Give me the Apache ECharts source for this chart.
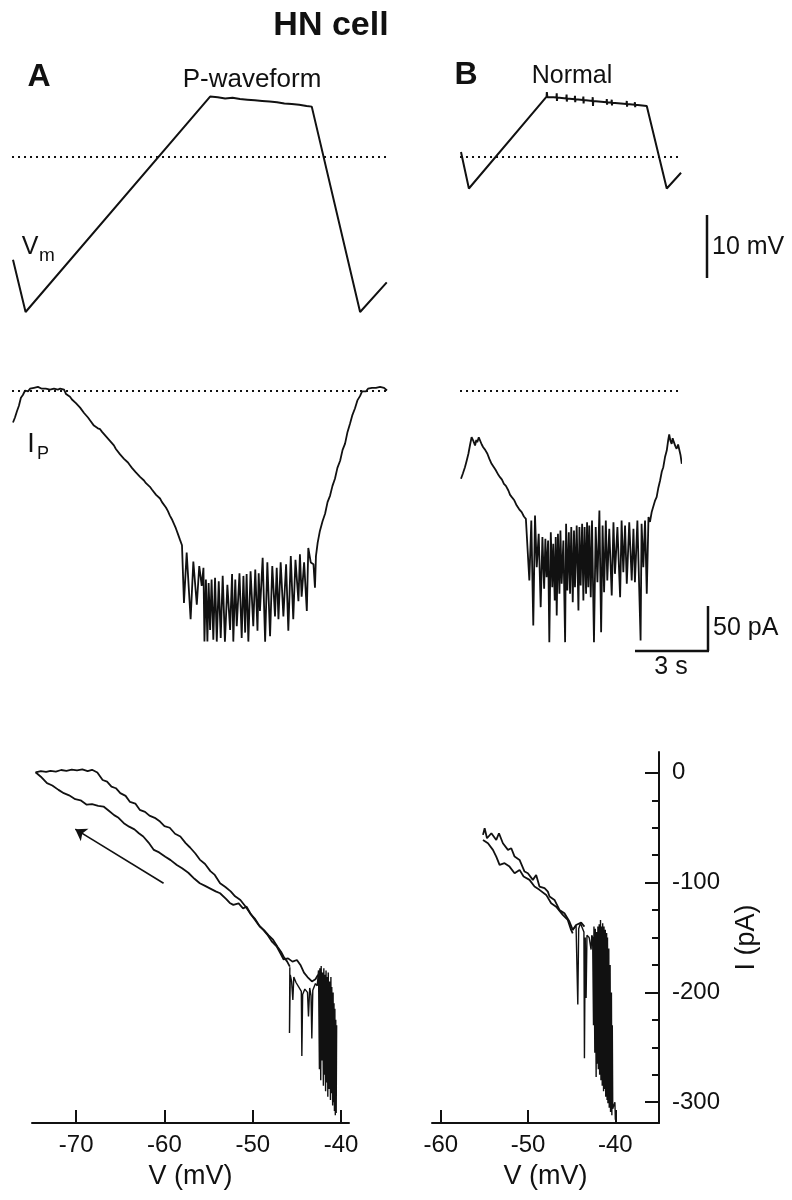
<!DOCTYPE html>
<html>
<head>
<meta charset="utf-8">
<script src="https://cdn.jsdelivr.net/npm/echarts@6/dist/echarts.min.js"></script>
<style>
  html, body { margin: 0; padding: 0; background: #fff; }
  #chart { width: 792px; height: 1200px; }
</style>
</head>
<body>
<div id="chart"></div>
<script>
// ---- data ----
// membrane potential, [time s, mV]
const vmA = [[0, -66.7], [0.51, -75], [7.99, -40.8], [8.0, -40.6], [8.02, -40.9], [8.3, -40.9], [8.32, -40.7], [8.34, -41.0],
  [8.6, -41.1], [8.9, -41.0], [9.2, -41.2], [9.22, -41.0], [9.24, -41.3], [9.5, -41.3], [9.8, -41.4], [10.1, -41.5],
  [10.4, -41.6], [10.42, -41.4], [10.44, -41.7], [10.7, -41.7], [11.0, -41.9], [11.3, -42.0], [11.6, -42.1],
  [11.62, -41.9], [11.64, -42.2], [11.9, -42.3], [12.11, -42.4], [14.07, -75], [15.15, -70.3]];
const vmB = [[0, -49.6], [0.32, -55.4], [3.47, -40.8], [3.48, -40.1], [3.5, -40.9], [3.6, -40.9], [3.75, -40.9],
  [3.87, -40.95], [3.88, -40.3], [3.89, -41.5], [3.9, -40.95],
  [4.27, -41.1], [4.28, -40.5], [4.29, -41.6], [4.3, -41.1],
  [4.61, -41.23], [4.62, -40.7], [4.63, -41.7], [4.64, -41.23],
  [4.95, -41.35], [4.96, -40.8], [4.97, -41.9], [4.98, -41.35],
  [5.33, -41.49], [5.34, -40.9], [5.35, -42.3], [5.36, -41.49],
  [5.9, -41.7], [5.91, -41.2], [5.92, -42.1], [5.93, -41.7],
  [6.1, -41.78], [6.11, -41.3], [6.12, -42.2], [6.13, -41.78],
  [6.71, -42.0], [6.72, -41.5], [6.73, -42.4], [6.74, -42.0],
  [7.04, -42.12], [7.05, -41.7], [7.06, -42.5], [7.07, -42.12],
  [7.53, -42.3], [8.34, -55.4], [8.92, -52.9]];
const vmRef = -50.4; // dotted line level

// persistent current, [time s, pA]
const ipA = [[0, -35.6], [0.08, -30], [0.16, -23], [0.24, -17], [0.32, -8], [0.4, -5], [0.49, 0], [0.55, -2], [0.61, -1],
  [0.69, 2], [0.77, 1], [0.85, 3], [0.93, 2], [1.01, 4], [1.09, 3], [1.17, 2], [1.25, 4], [1.33, 2], [1.41, 3], [1.5, 1],
  [1.58, 3], [1.66, 2], [1.74, 3], [1.82, 1], [1.91, 2], [1.99, 0], [2.07, 1], [2.15, -4], [2.23, -6], [2.31, -7],
  [2.39, -10], [2.47, -11], [2.55, -14], [2.63, -15], [2.72, -19], [2.8, -20], [2.88, -25], [2.96, -24], [3.04, -30],
  [3.12, -33], [3.2, -34], [3.28, -39], [3.36, -38], [3.44, -42], [3.53, -43], [3.61, -46], [3.69, -47], [3.77, -51],
  [3.85, -52], [3.93, -56], [4.01, -58], [4.09, -61], [4.17, -65], [4.25, -66], [4.34, -71], [4.42, -72], [4.5, -76],
  [4.58, -78], [4.66, -80], [4.74, -83], [4.82, -86], [4.9, -87], [4.98, -91], [5.06, -92], [5.15, -96], [5.23, -97],
  [5.31, -100], [5.39, -103], [5.47, -104], [5.55, -107], [5.63, -110], [5.71, -112], [5.8, -116], [5.88, -117],
  [5.96, -120], [6.04, -124], [6.12, -126], [6.2, -130], [6.28, -134], [6.36, -139], [6.44, -143], [6.52, -148],
  [6.6, -153], [6.68, -159], [6.77, -166], [6.85, -172],
  [6.9, -171], [6.93, -236], [7.04, -180], [7.2, -254], [7.31, -190], [7.45, -238], [7.55, -195], [7.65, -217],
  [7.72, -197], [7.76, -279], [7.82, -210], [7.88, -279], [7.93, -214], [7.99, -266], [8.05, -210], [8.12, -277],
  [8.19, -208], [8.26, -279], [8.34, -212], [8.42, -275], [8.5, -206], [8.59, -279], [8.69, -216], [8.8, -266],
  [8.88, -204], [8.93, -279], [9.01, -210], [9.07, -262], [9.18, -203], [9.27, -275], [9.34, -206], [9.41, -269],
  [9.47, -204], [9.54, -279], [9.63, -201], [9.74, -262], [9.82, -199], [9.91, -267], [9.96, -203], [10.01, -245],
  [10.12, -186], [10.22, -279], [10.31, -191], [10.42, -273], [10.51, -195], [10.62, -251], [10.69, -197],
  [10.76, -254], [10.85, -191], [10.96, -251], [11.07, -193], [11.16, -267], [11.26, -184], [11.36, -254],
  [11.45, -188], [11.57, -234], [11.63, -182], [11.7, -229], [11.8, -191], [11.91, -245], [11.97, -175],
  [12.07, -191], [12.18, -193], [12.24, -219], [12.28, -184], [12.35, -169],
  [12.44, -156], [12.55, -145], [12.65, -137], [12.75, -124], [12.85, -117], [12.95, -106], [13.05, -98],
  [13.15, -86], [13.26, -78], [13.36, -66], [13.46, -59], [13.56, -46], [13.66, -37], [13.76, -27], [13.86, -20],
  [13.96, -11], [14.07, -6], [14.15, -1], [14.23, 1], [14.31, -1], [14.39, 2], [14.47, 0], [14.55, 3], [14.63, 1],
  [14.71, 3], [14.79, 2], [14.88, 4], [14.96, 2], [15.04, 3], [15.12, 1], [15.16, 0]];
const ipB = [[0, -98.1], [0.08, -92], [0.16, -85.2], [0.23, -78], [0.3, -70.3], [0.37, -60], [0.43, -51.9], [0.5, -56],
  [0.57, -61.1], [0.62, -55], [0.66, -57.4], [0.72, -52], [0.77, -53.7], [0.84, -60], [0.9, -63], [0.98, -66],
  [1.07, -70.3], [1.15, -76], [1.24, -81.4], [1.32, -80], [1.4, -88], [1.45, -88.9], [1.52, -94], [1.58, -96.3],
  [1.66, -99], [1.74, -103.7], [1.82, -106], [1.92, -111.1], [1.99, -116], [2.06, -118.5], [2.16, -122],
  [2.26, -127.8], [2.36, -132], [2.46, -135.2], [2.55, -140], [2.63, -142.6],
  [2.69, -140.7], [2.77, -211.1], [2.85, -144.4], [2.93, -261.1], [3.0, -138.9], [3.07, -196.3], [3.15, -159.3],
  [3.23, -240.7], [3.3, -162.9], [3.37, -220.3], [3.42, -164.8], [3.47, -207.4], [3.53, -166.7], [3.58, -279.6],
  [3.64, -157.4], [3.7, -218.5], [3.74, -170.4], [3.8, -233.3], [3.84, -162.9], [3.88, -250], [3.93, -159.3],
  [3.99, -225.9], [4.03, -155.5], [4.08, -214.8], [4.15, -166.7], [4.22, -279.6], [4.26, -148.1], [4.31, -222.2],
  [4.37, -157.4], [4.42, -225.9], [4.47, -151.8], [4.53, -235.2], [4.58, -155.5], [4.62, -218.5], [4.69, -150],
  [4.76, -244.4], [4.8, -151.8], [4.85, -216.6], [4.91, -148.1], [4.96, -233.3], [5.01, -151.8], [5.07, -225.9],
  [5.11, -146.3], [5.16, -218.5], [5.2, -150], [5.26, -229.6], [5.31, -144.4], [5.39, -279.6], [5.46, -151.8],
  [5.53, -212.9], [5.61, -133.3], [5.68, -268.5], [5.74, -150], [5.8, -224.1], [5.87, -144.4], [5.93, -211.1],
  [6.01, -153.7], [6.11, -227.8], [6.18, -146.3], [6.24, -203.7], [6.34, -151.8], [6.45, -229.6], [6.51, -144.4],
  [6.58, -201.8], [6.65, -150], [6.72, -214.8], [6.82, -146.3], [6.92, -211.1], [6.99, -153.7], [7.05, -212.9],
  [7.15, -144.4], [7.28, -277.8], [7.32, -148.1], [7.39, -196.3], [7.46, -144.4], [7.53, -225.9], [7.6, -140.7],
  [7.66, -146], [7.73, -135], [7.8, -134], [7.87, -122], [7.93, -118.5], [8.0, -108], [8.07, -100], [8.14, -90],
  [8.2, -85.2], [8.27, -74], [8.34, -66.7], [8.4, -55], [8.44, -48.9], [8.49, -56], [8.54, -59.3], [8.58, -53],
  [8.63, -57.4], [8.69, -62], [8.74, -64.8], [8.8, -60], [8.85, -62.2], [8.9, -72], [8.95, -81.4]];
const ipRef = 0;

// I-V relations, [mV, pA]
const ivAUpper = [[-74.6, 0.5], [-74.0, 1.5], [-73.4, 0.8], [-72.9, 1.8], [-72.3, 1.2], [-71.7, 2.6], [-71.1, 1.9],
  [-70.5, 3.0], [-69.9, 2.2], [-69.3, 3.1], [-68.7, 1.5], [-68.2, 2.8], [-67.6, 0.3], [-67.0, -6.5], [-66.5, -8.0],
  [-66.0, -12.5], [-65.5, -14.0], [-65.0, -18.5], [-64.4, -21.0], [-63.9, -26.5], [-63.3, -28.0], [-62.8, -33.7],
  [-62.2, -35.5], [-61.7, -39.0], [-61.1, -41.0], [-60.5, -44.4], [-60.0, -48.5], [-59.4, -50.0], [-58.8, -55.5],
  [-58.2, -58.0], [-57.6, -64.0], [-57.1, -68.0], [-56.5, -73.5], [-56.0, -79.0], [-55.4, -83.0], [-54.8, -89.5],
  [-54.3, -93.0], [-53.7, -100.6], [-53.1, -104.0], [-52.5, -108.0], [-52.0, -112.5], [-51.4, -115.8],
  [-50.8, -122.0], [-50.3, -128.0], [-49.7, -133.5], [-49.2, -140.0], [-48.7, -143.5], [-48.2, -148.0],
  [-47.7, -152.0], [-47.2, -158.5], [-46.8, -163.0], [-46.5, -167.5], [-46.1, -172.0], [-45.8, -176.6]];
const ivALower = [[-74.6, 0.5], [-74.0, -3.5], [-73.3, -9.4], [-72.7, -11.5], [-72.0, -15.5], [-71.4, -18.5],
  [-70.8, -20.5], [-70.1, -24.0], [-69.5, -25.0], [-68.8, -29.0], [-68.2, -28.5], [-67.5, -30.0], [-66.9, -30.7],
  [-66.3, -34.5], [-65.7, -38.5], [-65.2, -41.0], [-64.6, -45.9], [-64.0, -49.0], [-63.4, -51.5], [-62.9, -55.0],
  [-62.4, -58.0], [-61.8, -63.5], [-61.2, -70.2], [-60.6, -72.5], [-59.9, -76.5], [-59.3, -79.5], [-58.6, -83.9],
  [-58.0, -87.0], [-57.3, -91.0], [-56.6, -96.5], [-56.0, -100.6], [-55.4, -103.0], [-54.8, -105.5],
  [-54.2, -108.0], [-53.7, -109.7], [-53.0, -115.0], [-52.6, -118.5], [-52.2, -120.3], [-51.6, -119.0],
  [-51.1, -123.5], [-50.7, -121.9], [-50.2, -129.0], [-49.7, -134.5], [-49.3, -139.0], [-48.8, -143.0],
  [-48.3, -148.0], [-47.8, -154.0], [-47.3, -158.0], [-46.9, -164.0], [-46.5, -170.0], [-46.0, -169.0],
  [-45.5, -172.0], [-45.0, -170.5], [-44.6, -175], [-44.2, -182], [-43.8, -186], [-43.3, -190], [-42.9, -188],
  [-42.6, -184]];
const ivASpikes = [[-45.8, -177], [-45.84, -237], [-45.75, -184], [-45.6, -190], [-45.46, -207], [-45.35, -186],
  [-45.1, -191], [-44.8, -195], [-44.5, -199], [-44.44, -258], [-44.35, -202], [-44.1, -197], [-43.8, -200],
  [-43.69, -222], [-43.55, -196], [-43.4, -203], [-43.31, -242], [-43.2, -198], [-42.9, -192], [-42.7, -194],
  [-42.6, -185], [-42.55, -180], [-42.45, -270], [-42.4, -178], [-42.3, -280], [-42.25, -176], [-42.15, -262],
  [-42.1, -182], [-42.0, -285], [-41.95, -178], [-41.9, -275], [-41.85, -184], [-41.75, -290], [-41.7, -180],
  [-41.6, -282], [-41.55, -186], [-41.5, -295], [-41.45, -182], [-41.35, -288], [-41.3, -190], [-41.2, -298],
  [-41.15, -186], [-41.1, -292], [-41.05, -195], [-40.95, -303], [-40.9, -200], [-40.85, -300], [-40.8, -210],
  [-40.75, -308], [-40.7, -215], [-40.65, -312], [-40.6, -225], [-40.55, -310], [-40.5, -230], [-40.6, -300]];
const ivAArrow = [[-60.1, -100.6], [-70.1, -51.3]];

const ivBUpper = [[-55.16, -56.5], [-54.97, -50.4], [-54.7, -59.6], [-54.2, -55.0], [-53.64, -61.1], [-53.33, -55.0],
  [-52.88, -64.1], [-52.3, -70.2], [-51.92, -68.7], [-51.54, -76.3], [-50.97, -79.3], [-50.4, -89.9],
  [-50.02, -91.5], [-49.45, -97.5], [-49.07, -93.0], [-48.69, -103.6], [-48.11, -105.1], [-47.73, -108.2],
  [-47.54, -112.7], [-46.97, -115.8], [-46.4, -124.9], [-45.83, -127.9], [-45.26, -135.5], [-44.88, -143.1],
  [-44.5, -138.6], [-43.92, -136.4], [-43.54, -140.1]];
const ivBLower = [[-55.16, -61.1], [-54.59, -64.1], [-54.02, -70.2], [-53.64, -76.3], [-53.26, -83.9],
  [-52.69, -82.3], [-52.12, -85.4], [-51.54, -91.5], [-50.97, -88.4], [-50.51, -94.5], [-49.83, -97.5],
  [-49.26, -103.6], [-48.69, -106.6], [-47.92, -111.2], [-47.35, -118.8], [-46.78, -121.9], [-46.02, -129.4],
  [-45.45, -134], [-45.07, -143.1], [-44.88, -146.2]];
const ivBSpikes = [[-44.88, -143], [-44.5, -139], [-44.3, -140], [-44.3, -211], [-44.2, -142], [-44.0, -137],
  [-43.8, -138], [-43.6, -145], [-43.54, -260], [-43.45, -150], [-43.35, -205], [-43.25, -148], [-43.0, -150],
  [-42.78, -161], [-42.7, -148], [-42.6, -150], [-42.5, -230], [-42.45, -140], [-42.35, -255], [-42.3, -142],
  [-42.2, -277], [-42.15, -145], [-42.05, -265], [-42.0, -140], [-41.95, -270], [-41.85, -138], [-41.8, -275],
  [-41.7, -134], [-41.65, -280], [-41.55, -140], [-41.5, -285], [-41.45, -137], [-41.35, -290], [-41.3, -140],
  [-41.25, -288], [-41.15, -143], [-41.1, -295], [-41.0, -146], [-40.95, -298], [-40.9, -150], [-40.85, -301],
  [-40.75, -160], [-40.7, -305], [-40.6, -175], [-40.55, -309], [-40.45, -200], [-40.4, -312], [-40.35, -230],
  [-40.3, -306], [-40.05, -300], [-40.0, -316]];

// axis labels / ticks
const ivATicks = [-70, -60, -50, -40];
const ivBTicks = [-60, -50, -40];
const iTicks = [-300, -200, -100, 0];
const iMinorTicks = [-275, -250, -225, -175, -150, -125, -75, -50, -25];

// scale bars
const barMv = 10, barPa = 50, barS = 3;

// ---- layout ----
const FONT = '"Liberation Sans", Arial, Helvetica, sans-serif';
const INK = '#111';
const PX_S = 24.67;   // px per second (traces)
const PX_MV = 6.3;    // px per mV (Vm traces)
const PX_PA = 0.9;    // px per pA (Ip traces)
const VM_MIN = -77, VM_MAX = -38, VM_Y75 = 312;   // y px of -75 mV
const IP_MIN = -300, IP_MAX = 10, IP_Y0 = 390.5;  // y px of 0 pA

function traceGrid(x0, tMin, tMax, yTop, yHeight) {
  return { left: x0 + tMin * PX_S, width: (tMax - tMin) * PX_S, top: yTop, height: yHeight, outerBoundsMode: 'none' };
}
const vmTop = VM_Y75 - (VM_MAX + 75) * PX_MV;
const vmH = (VM_MAX - VM_MIN) * PX_MV;
const ipTop = IP_Y0 - IP_MAX * PX_PA;
const ipH = (IP_MAX - IP_MIN) * PX_PA;

const tA = [-0.04, 15.16], tB = [-0.04, 8.88];

function hiddenAxis(gridIndex, min, max) {
  return { type: 'value', gridIndex: gridIndex, min: min, max: max, show: false };
}
function line(data, xi, extra) {
  return Object.assign({
    type: 'line', data: data, xAxisIndex: xi, yAxisIndex: xi,
    symbol: 'none', clip: false, silent: true, animation: false,
    lineStyle: { color: INK, width: 1.8 }
  }, extra || {});
}
function refLine(value) {
  return {
    silent: true, symbol: 'none', label: { show: false },
    lineStyle: { color: INK, type: [2, 4], width: 2 },
    data: [{ yAxis: value }]
  };
}

const ivXAxis = (gridIndex, min, max, ticks) => ({
  type: 'value', gridIndex: gridIndex, min: min, max: max,
  name: 'V (mV)', nameLocation: 'middle', nameGap: 40,
  nameTextStyle: { fontSize: 27, color: INK, fontFamily: FONT },
  axisLine: { show: true, onZero: false, lineStyle: { color: INK, width: 2 } },
  axisTick: { inside: true, length: 13, customValues: ticks, lineStyle: { color: INK, width: 2 } },
  axisLabel: { customValues: ticks, fontSize: 24, color: INK, fontFamily: FONT, margin: 10 },
  splitLine: { show: false }
});

const option = {
  animation: false,
  backgroundColor: '#fff',
  textStyle: { fontFamily: FONT },
  grid: [
    traceGrid(13, tA[0], tA[1], vmTop, vmH),
    traceGrid(461, tB[0], tB[1], vmTop, vmH),
    traceGrid(13, tA[0], tA[1], ipTop, ipH),
    traceGrid(461, tB[0], tB[1], ipTop, ipH),
    { left: 32, width: 317, top: 752, height: 371, outerBoundsMode: 'none' },
    { left: 432, width: 227, top: 752, height: 371, outerBoundsMode: 'none' }
  ],
  xAxis: [
    hiddenAxis(0, tA[0], tA[1]),
    hiddenAxis(1, tB[0], tB[1]),
    hiddenAxis(2, tA[0], tA[1]),
    hiddenAxis(3, tB[0], tB[1]),
    ivXAxis(4, -75, -39.1, ivATicks),
    ivXAxis(5, -61, -35, ivBTicks)
  ],
  yAxis: [
    hiddenAxis(0, VM_MIN, VM_MAX),
    hiddenAxis(1, VM_MIN, VM_MAX),
    hiddenAxis(2, IP_MIN, IP_MAX),
    hiddenAxis(3, IP_MIN, IP_MAX),
    hiddenAxis(4, -319, 19),
    {
      type: 'value', gridIndex: 5, min: -319, max: 19, position: 'right',
      name: 'I (pA)', nameLocation: 'middle', nameRotate: 90, nameGap: 74,
      nameTextStyle: { fontSize: 27, color: INK, fontFamily: FONT },
      axisLine: { show: true, onZero: false, lineStyle: { color: INK, width: 2 } },
      axisTick: { inside: true, length: 14, customValues: iTicks, lineStyle: { color: INK, width: 2 } },
      axisLabel: { customValues: iTicks, fontSize: 24, color: INK, fontFamily: FONT, margin: 13 },
      splitLine: { show: false }
    },
    {
      type: 'value', gridIndex: 5, min: -319, max: 19, position: 'right',
      axisLine: { show: false },
      axisTick: { show: true, inside: true, length: 7, customValues: iMinorTicks, lineStyle: { color: INK, width: 2 } },
      axisLabel: { show: false },
      splitLine: { show: false }
    }
  ],
  series: [
    line(vmA, 0, { lineStyle: { color: INK, width: 2 }, markLine: refLine(vmRef) }),
    line(vmB, 1, { lineStyle: { color: INK, width: 2 }, markLine: refLine(vmRef) }),
    line(ipA, 2, { markLine: refLine(ipRef) }),
    line(ipB, 3, { markLine: refLine(ipRef) }),
    line(ivAUpper, 4),
    line(ivALower, 4),
    line(ivASpikes, 4, { lineStyle: { color: INK, width: 1.4 } }),
    line(ivAArrow, 4, {
      data: [],
      markLine: {
        silent: true, symbol: ['none', 'arrow'], symbolSize: 11, label: { show: false },
        lineStyle: { color: INK, width: 1.6, type: 'solid' },
        data: [[{ coord: ivAArrow[0] }, { coord: ivAArrow[1] }]]
      }
    }),
    line(ivBUpper, 5),
    line(ivBLower, 5),
    line(ivBSpikes, 5, { lineStyle: { color: INK, width: 1.4 } })
  ],
  graphic: [
    { type: 'text', x: 331, y: 26, style: { text: 'HN cell', fontSize: 34, fontWeight: 'bold', fontFamily: FONT, fill: INK, align: 'center', verticalAlign: 'middle' } },
    { type: 'text', x: 39, y: 77, style: { text: 'A', fontSize: 32, fontWeight: 'bold', fontFamily: FONT, fill: INK, align: 'center', verticalAlign: 'middle' } },
    { type: 'text', x: 466, y: 75, style: { text: 'B', fontSize: 32, fontWeight: 'bold', fontFamily: FONT, fill: INK, align: 'center', verticalAlign: 'middle' } },
    { type: 'text', x: 252, y: 80, style: { text: 'P-waveform', fontSize: 26, fontFamily: FONT, fill: INK, align: 'center', verticalAlign: 'middle' } },
    { type: 'text', x: 572, y: 76, style: { text: 'Normal', fontSize: 25, fontFamily: FONT, fill: INK, align: 'center', verticalAlign: 'middle' } },
    { type: 'text', x: 30, y: 247, style: { text: 'V', fontSize: 25, fontFamily: FONT, fill: INK, align: 'center', verticalAlign: 'middle' } },
    { type: 'text', x: 47, y: 256, style: { text: 'm', fontSize: 19, fontFamily: FONT, fill: INK, align: 'center', verticalAlign: 'middle' } },
    { type: 'text', x: 31, y: 445, style: { text: 'I', fontSize: 27, fontFamily: FONT, fill: INK, align: 'center', verticalAlign: 'middle' } },
    { type: 'text', x: 43, y: 454, style: { text: 'P', fontSize: 18, fontFamily: FONT, fill: INK, align: 'center', verticalAlign: 'middle' } },
    // scale bars
    { type: 'line', shape: { x1: 707, y1: 215, x2: 707, y2: 215 + barMv * PX_MV }, style: { stroke: INK, lineWidth: 2.5 } },
    { type: 'text', x: 712, y: 247, style: { text: barMv + ' mV', fontSize: 25, fontFamily: FONT, fill: INK, align: 'left', verticalAlign: 'middle' } },
    { type: 'line', shape: { x1: 708, y1: 651 - barPa * PX_PA, x2: 708, y2: 651 }, style: { stroke: INK, lineWidth: 2.5 } },
    { type: 'line', shape: { x1: 709 - barS * PX_S, y1: 651, x2: 709, y2: 651 }, style: { stroke: INK, lineWidth: 2.5 } },
    { type: 'text', x: 713, y: 628, style: { text: barPa + ' pA', fontSize: 25, fontFamily: FONT, fill: INK, align: 'left', verticalAlign: 'middle' } },
    { type: 'text', x: 671, y: 667, style: { text: barS + ' s', fontSize: 25, fontFamily: FONT, fill: INK, align: 'center', verticalAlign: 'middle' } }
  ]
};

const chart = echarts.init(document.getElementById('chart'), null, { renderer: 'canvas' });
chart.setOption(option);
</script>
</body>
</html>
